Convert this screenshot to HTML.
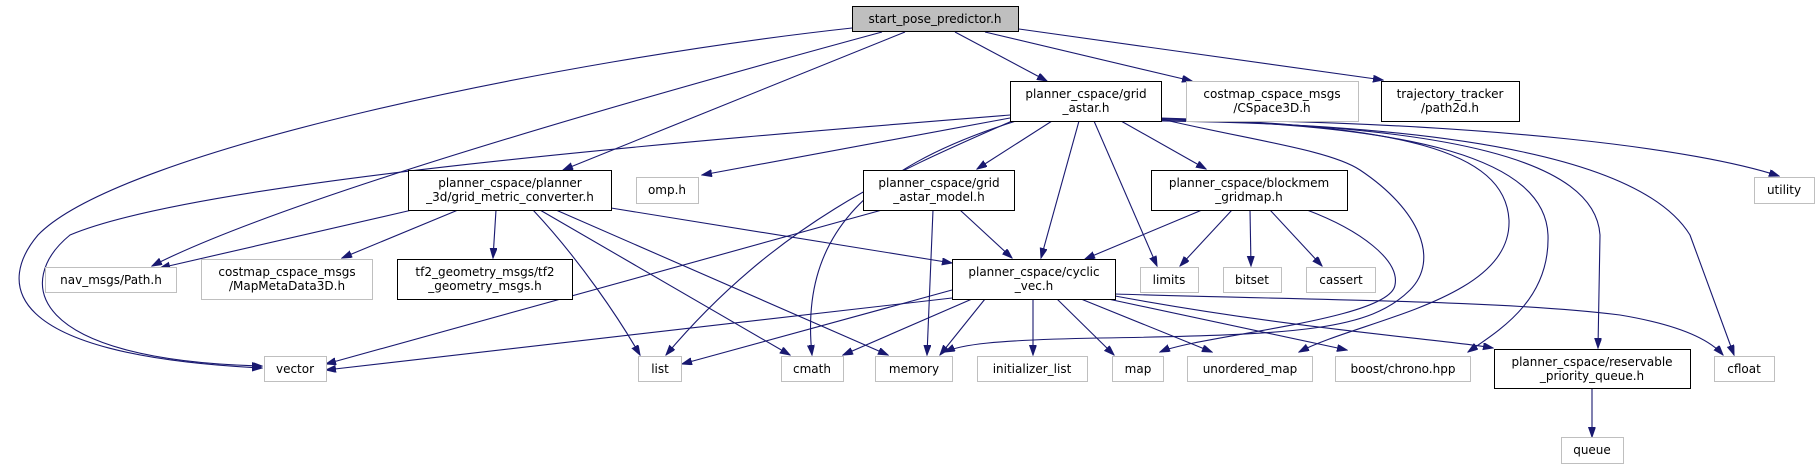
<!DOCTYPE html>
<html><head><meta charset="utf-8"><style>
html,body{margin:0;padding:0;background:#fff;}
svg{display:block;}
text{font-family:"DejaVu Sans","Liberation Sans",sans-serif;font-size:12px;fill:#000;text-anchor:middle;}
.e{fill:none;stroke:#191970;stroke-width:1.1;marker-end:url(#a);}
.g{fill:#fff;stroke:#bfbfbf;stroke-width:1;}
.b{fill:#fff;stroke:#000;stroke-width:1;}
</style></head><body>
<svg width="1820" height="469" viewBox="0 0 1820 469">
<defs><marker id="a" markerUnits="userSpaceOnUse" markerWidth="11" markerHeight="8" refX="10" refY="3.5" orient="auto"><path d="M0,0 L10,3.5 L0,7 z" fill="#191970" stroke="#191970"/></marker></defs>
<path class="e" d="M852,28 C560,60 120,150 38,235 C0,280 -5,355 262,368"/>
<path class="e" d="M882,32 Q300,190 152,266"/>
<path class="e" d="M905,32 L563,170"/>
<path class="e" d="M955,32 L1047,81"/>
<path class="e" d="M985,32 L1192,81"/>
<path class="e" d="M1019,29 L1383,80"/>
<path class="e" d="M1010,115 C700,140 200,180 70,235 C15,280 25,360 262,366"/>
<path class="e" d="M1010,118 L702,175"/>
<path class="e" d="M1012,121 C900,170 780,220 666,355"/>
<path class="e" d="M1016,121 C860,170 800,240 812,355"/>
<path class="e" d="M1052,121 L977,169"/>
<path class="e" d="M1079,121 L1041,258"/>
<path class="e" d="M1094,121 L1157,266"/>
<path class="e" d="M1121,121 L1206,169"/>
<path class="e" d="M1161,119 C1250,140 1330,150 1360,170 C1420,210 1440,260 1410,290 C1370,330 1300,335 1100,338 C990,340 960,345 945,352"/>
<path class="e" d="M1161,118 C1400,125 1505,150 1509,220 C1512,300 1360,320 1299,352"/>
<path class="e" d="M1161,119 C1420,125 1545,160 1548,235 C1550,300 1500,330 1468,352"/>
<path class="e" d="M1161,120 C1450,125 1595,160 1600,235 L1598,348"/>
<path class="e" d="M1161,121 C1500,125 1650,170 1690,235 L1734,355"/>
<path class="e" d="M1161,119 C1500,122 1700,150 1779,176"/>
<path class="e" d="M1202,210 L1085,259"/>
<path class="e" d="M1232,210 L1180,266"/>
<path class="e" d="M1250,210 L1251,266"/>
<path class="e" d="M1270,210 L1322,266"/>
<path class="e" d="M1307,210 C1360,230 1400,260 1395,285 C1390,320 1200,335 1160,352"/>
<path class="e" d="M412,210 L160,268"/>
<path class="e" d="M458,210 L342,258"/>
<path class="e" d="M496,210 L493,258"/>
<path class="e" d="M533,210 C580,260 620,320 640,355"/>
<path class="e" d="M540,210 L790,355"/>
<path class="e" d="M556,210 L888,355"/>
<path class="e" d="M611,208 L952,263"/>
<path class="e" d="M882,210 L326,364"/>
<path class="e" d="M933,210 L927,355"/>
<path class="e" d="M960,210 L1012,258"/>
<path class="e" d="M952,298 L326,370"/>
<path class="e" d="M952,290 L682,364"/>
<path class="e" d="M972,299 L843,355"/>
<path class="e" d="M985,299 L940,355"/>
<path class="e" d="M1033,299 L1033,355"/>
<path class="e" d="M1057,299 L1114,355"/>
<path class="e" d="M1081,299 L1212,352"/>
<path class="e" d="M1108,299 L1347,350"/>
<path class="e" d="M1115,296 C1300,330 1450,340 1493,348"/>
<path class="e" d="M1115,294 C1300,300 1500,300 1620,315 C1680,325 1710,340 1723,355"/>
<path class="e" d="M1592,388 L1592,437"/>
<rect x="852.5" y="6.5" width="166" height="25" fill="#bfbfbf" stroke="#000"/><text x="935" y="23">start_pose_predictor.h</text>
<rect class="b" x="1010.5" y="81.5" width="151" height="40"/><text x="1086" y="98">planner_cspace/grid</text><text x="1086" y="112">_astar.h</text>
<rect class="g" x="1186.5" y="81.5" width="172" height="40"/><text x="1272" y="98">costmap_cspace_msgs</text><text x="1272" y="112">/CSpace3D.h</text>
<rect class="b" x="1381.5" y="81.5" width="138" height="40"/><text x="1450" y="98">trajectory_tracker</text><text x="1450" y="112">/path2d.h</text>
<rect class="b" x="408.5" y="170.5" width="203" height="40"/><text x="510" y="187">planner_cspace/planner</text><text x="510" y="201">_3d/grid_metric_converter.h</text>
<rect class="g" x="636.5" y="177.5" width="62" height="26"/><text x="667" y="194">omp.h</text>
<rect class="b" x="863.5" y="170.5" width="151" height="40"/><text x="939" y="187">planner_cspace/grid</text><text x="939" y="201">_astar_model.h</text>
<rect class="b" x="1151.5" y="170.5" width="196" height="40"/><text x="1249" y="187">planner_cspace/blockmem</text><text x="1249" y="201">_gridmap.h</text>
<rect class="g" x="1754.5" y="177.5" width="60" height="26"/><text x="1784" y="194">utility</text>
<rect class="g" x="45.5" y="267.5" width="131" height="25"/><text x="111" y="284">nav_msgs/Path.h</text>
<rect class="g" x="201.5" y="259.5" width="171" height="40"/><text x="287" y="276">costmap_cspace_msgs</text><text x="287" y="290">/MapMetaData3D.h</text>
<rect class="b" x="397.5" y="259.5" width="175" height="40"/><text x="485" y="276">tf2_geometry_msgs/tf2</text><text x="485" y="290">_geometry_msgs.h</text>
<rect class="b" x="952.5" y="259.5" width="163" height="40"/><text x="1034" y="276">planner_cspace/cyclic</text><text x="1034" y="290">_vec.h</text>
<rect class="g" x="1140.5" y="267.5" width="58" height="25"/><text x="1169" y="284">limits</text>
<rect class="g" x="1223.5" y="267.5" width="58" height="25"/><text x="1252" y="284">bitset</text>
<rect class="g" x="1306.5" y="267.5" width="69" height="25"/><text x="1341" y="284">cassert</text>
<rect class="g" x="264.5" y="356.5" width="62" height="25"/><text x="295" y="373">vector</text>
<rect class="g" x="638.5" y="356.5" width="43" height="25"/><text x="660" y="373">list</text>
<rect class="g" x="781.5" y="356.5" width="62" height="25"/><text x="812" y="373">cmath</text>
<rect class="g" x="875.5" y="356.5" width="77" height="25"/><text x="914" y="373">memory</text>
<rect class="g" x="977.5" y="356.5" width="110" height="25"/><text x="1032" y="373">initializer_list</text>
<rect class="g" x="1112.5" y="356.5" width="51" height="25"/><text x="1138" y="373">map</text>
<rect class="g" x="1187.5" y="356.5" width="125" height="25"/><text x="1250" y="373">unordered_map</text>
<rect class="g" x="1335.5" y="356.5" width="135" height="25"/><text x="1403" y="373">boost/chrono.hpp</text>
<rect class="b" x="1494.5" y="349.5" width="196" height="39"/><text x="1592" y="366">planner_cspace/reservable</text><text x="1592" y="380">_priority_queue.h</text>
<rect class="g" x="1714.5" y="356.5" width="60" height="25"/><text x="1744" y="373">cfloat</text>
<rect class="g" x="1561.5" y="437.5" width="62" height="26"/><text x="1592" y="454">queue</text>
</svg>
</body></html>
